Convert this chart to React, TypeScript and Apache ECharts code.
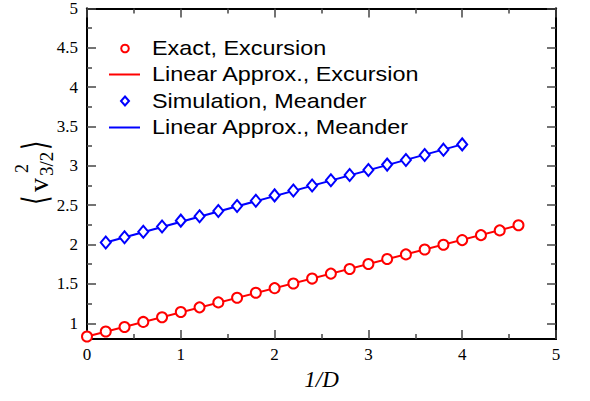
import React, { useEffect, useRef } from "react";
import * as echarts from "echarts";

const exactX = [0, 0.2, 0.4, 0.6, 0.8, 1.0, 1.2, 1.4, 1.6, 1.8, 2.0, 2.2, 2.4, 2.6, 2.8, 3.0, 3.2, 3.4, 3.6, 3.8, 4.0, 4.2, 4.4, 4.6];
const exactY = [0.832, 0.895, 0.953, 1.017, 1.076, 1.143, 1.202, 1.265, 1.324, 1.388, 1.446, 1.505, 1.568, 1.631, 1.69, 1.753, 1.817, 1.875, 1.938, 1.997, 2.057, 2.12, 2.18, 2.245];
const exactFitX = [0, 4.6];
const exactFitY = [0.832, 2.245];

const simX = [0.2, 0.4, 0.6, 0.8, 1.0, 1.2, 1.4, 1.6, 1.8, 2.0, 2.2, 2.4, 2.6, 2.8, 3.0, 3.2, 3.4, 3.6, 3.8, 4.0];
const simY = [2.027, 2.094, 2.162, 2.229, 2.304, 2.36, 2.427, 2.49, 2.557, 2.625, 2.688, 2.751, 2.818, 2.885, 2.948, 3.016, 3.074, 3.138, 3.206, 3.273];
const simFitX = [0.2, 4.0];
const simFitY = [2.027, 3.273];

const yMajorTicks = [1, 1.5, 2, 2.5, 3, 3.5, 4, 4.5, 5];
const yMinorTicks = [1.25, 1.75, 2.25, 2.75, 3.25, 3.75, 4.25, 4.75];

const seriesNames = [
  "Exact, Excursion",
  "Linear Approx., Excursion",
  "Simulation, Meander",
  "Linear Approx., Meander",
];

const RED = "#ff0000";
const BLUE = "#0000ff";
const TICK = "#444444";
const SERIF = "'Liberation Serif', 'Times New Roman', serif";
const SANS = "'Liberation Sans', Arial, sans-serif";

const zip = (xs: number[], ys: number[]) => xs.map((x, i) => [x, ys[i]]);

export default function App() {
  const ref = useRef<HTMLDivElement>(null);
  useEffect(() => {
    if (!ref.current) return;
    const chart = echarts.init(ref.current, undefined, { renderer: "svg" });
    const yBase = {
      type: "value" as const,
      min: 0.8,
      max: 5,
      splitLine: { show: false },
      axisLine: { show: true, lineStyle: { color: "#000", width: 2 } },
    };
    const xBase = {
      type: "value" as const,
      min: 0,
      max: 5,
      interval: 1,
      splitLine: { show: false },
      axisLine: { show: true, lineStyle: { color: "#000", width: 2 } },
      axisTick: { show: true, inside: true, length: 9, lineStyle: { color: TICK, width: 1.5 } },
      minorTick: { show: true, splitNumber: 2, length: 5, lineStyle: { color: TICK, width: 1.5 } },
    };
    const legendRows = [48.5, 74.5, 101, 127.5];
    chart.setOption({
      animation: false,
      grid: { left: 87, right: 34, top: 7, bottom: 62, containLabel: false },
      xAxis: [
        {
          ...xBase,
          position: "bottom",
          name: "1/D",
          nameLocation: "middle",
          nameGap: 28,
          nameTextStyle: { fontFamily: SERIF, fontStyle: "italic", fontSize: 23, color: "#000" },
          axisLabel: { fontFamily: SERIF, fontSize: 17, color: "#000", margin: 7 },
        },
        { ...xBase, position: "top", axisLabel: { show: false } },
      ],
      yAxis: [
        {
          ...yBase,
          position: "left",
          axisTick: { show: true, inside: true, length: 9, customValues: yMajorTicks, lineStyle: { color: TICK, width: 1.5 } },
          axisLabel: { fontFamily: SERIF, fontSize: 17, color: "#000", margin: 9, customValues: yMajorTicks },
        },
        {
          ...yBase,
          position: "left",
          axisTick: { show: true, inside: true, length: 5, customValues: yMinorTicks, lineStyle: { color: TICK, width: 1.5 } },
          axisLabel: { show: false },
        },
        {
          ...yBase,
          position: "right",
          axisTick: { show: true, inside: true, length: 9, customValues: yMajorTicks, lineStyle: { color: TICK, width: 1.5 } },
          axisLabel: { show: false },
        },
        {
          ...yBase,
          position: "right",
          axisTick: { show: true, inside: true, length: 5, customValues: yMinorTicks, lineStyle: { color: TICK, width: 1.5 } },
          axisLabel: { show: false },
        },
      ],
      series: [
        {
          name: seriesNames[1],
          type: "line",
          data: zip(exactFitX, exactFitY),
          showSymbol: false,
          lineStyle: { color: RED, width: 2 },
          itemStyle: { color: RED },
          z: 2,
        },
        {
          name: seriesNames[0],
          type: "scatter",
          data: zip(exactX, exactY),
          symbol: "circle",
          symbolSize: 10,
          clip: false,
          itemStyle: { color: "#fff", borderColor: RED, borderWidth: 2, opacity: 1 },
          z: 3,
        },
        {
          name: seriesNames[3],
          type: "line",
          data: zip(simFitX, simFitY),
          showSymbol: false,
          lineStyle: { color: BLUE, width: 2 },
          itemStyle: { color: BLUE },
          z: 2,
        },
        {
          name: seriesNames[2],
          type: "scatter",
          data: zip(simX, simY),
          symbol: "diamond",
          symbolSize: [10, 12],
          clip: false,
          itemStyle: { color: "#fff", borderColor: BLUE, borderWidth: 2, opacity: 1 },
          z: 3,
        },
      ],
      graphic: [
        // legend
        { type: "circle", shape: { cx: 125, cy: legendRows[0], r: 3.8 }, style: { fill: "#fff", stroke: RED, lineWidth: 2 }, z: 10 },
        { type: "line", shape: { x1: 109, y1: legendRows[1], x2: 140, y2: legendRows[1] }, style: { stroke: RED, lineWidth: 2 }, z: 10 },
        {
          type: "polygon",
          shape: { points: [[125, legendRows[2] - 4.5], [129, legendRows[2]], [125, legendRows[2] + 4.5], [121, legendRows[2]]] },
          style: { fill: "#fff", stroke: BLUE, lineWidth: 2 },
          z: 10,
        },
        { type: "line", shape: { x1: 109, y1: legendRows[3], x2: 140, y2: legendRows[3] }, style: { stroke: BLUE, lineWidth: 2 }, z: 10 },
        ...seriesNames.map((n, i) => ({
          type: "text",
          x: 152,
          y: legendRows[i],
          scaleX: 1.17,
          style: { text: n, fontFamily: SANS, fontSize: 20, fill: "#000", align: "left", verticalAlign: "middle" },
          z: 10,
        })),
        // y-axis title
        {
          type: "group",
          x: 47,
          y: 205,
          rotation: Math.PI / 2,
          children: [
            { type: "text", x: 0, y: -12, scaleY: 1.45, style: { text: "⟨", fontFamily: SERIF, fontSize: 24, fill: "#000", align: "left", verticalAlign: "middle" } },
            { type: "text", x: 13, y: -8.4, style: { text: "v", fontFamily: SERIF, fontSize: 28, fill: "#000", align: "left", verticalAlign: "middle" } },
            { type: "text", x: 32, y: -25.4, style: { text: "2", fontFamily: SERIF, fontSize: 18, fill: "#000", align: "left", verticalAlign: "middle" } },
            { type: "text", x: 29, y: -1, style: { text: "3/2", fontFamily: SERIF, fontSize: 19, fill: "#000", align: "left", verticalAlign: "middle" } },
            { type: "text", x: 55, y: -12, scaleY: 1.45, style: { text: "⟩", fontFamily: SERIF, fontSize: 24, fill: "#000", align: "left", verticalAlign: "middle" } },
          ],
        },
      ],
    });
    return () => chart.dispose();
  }, []);
  return <div ref={ref} style={{ position: "absolute", left: 0, top: 0, width: 590, height: 401 }} />;
}
